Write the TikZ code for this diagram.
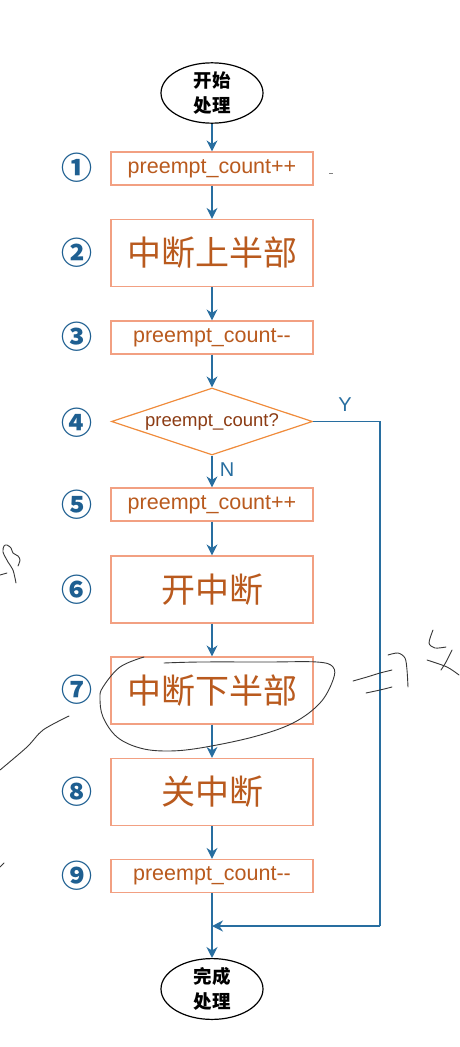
\documentclass[tikz,border=0pt]{standalone}
\usepackage{fontspec}
\setmainfont{Liberation Sans}
\newfontfamily\cjk{Noto Sans CJK SC}
\usetikzlibrary{shapes.geometric,arrows.meta}
\definecolor{flow}{RGB}{40,110,160}
\definecolor{boxline}{RGB}{242,160,130}
\definecolor{dialine}{RGB}{240,140,60}
\definecolor{boxtext}{RGB}{185,90,30}
\definecolor{diatext}{RGB}{140,60,20}
\definecolor{numcol}{RGB}{30,95,145}
\definecolor{pen}{RGB}{55,55,55}
\tikzset{
  stepbox/.style={draw=boxline, line width=1.2pt, minimum width=202pt, inner sep=0pt, text=boxtext},
  smallbox/.style={stepbox, minimum height=33pt, font=\fontsize{21.5}{24}\selectfont},
  bigbox/.style={stepbox, minimum height=67pt, font=\cjk\fontsize{34}{38}\selectfont},
  term/.style={ellipse, draw=black, line width=1.2pt, minimum width=102pt, inner sep=0pt, align=center, font=\cjk\bfseries\fontsize{18.5}{25}\selectfont},
  decision/.style={diamond, draw=dialine, line width=1.2pt, minimum width=201pt, minimum height=67pt, inner sep=0pt, shape aspect=3, text=diatext, font=\fontsize{18.5}{20}\selectfont},
  num/.style={text=numcol, font=\cjk\bfseries\fontsize{31}{33}\selectfont},
  flowarrow/.style={draw=flow, line width=1.6pt, -{Stealth[length=11pt,width=11pt]}},
  flowline/.style={draw=flow, line width=1.6pt},
  lab/.style={text=flow, font=\fontsize{20}{22}\selectfont},
  scribble/.style={draw=pen, line width=0.9pt, line cap=round, line join=round}
}
\begin{document}
\begin{tikzpicture}[x=1pt,y=-1pt]
\useasboundingbox[fill=white] (0,0) rectangle (459,1047);

\node[term, minimum height=50pt] (start) at (212,93) {开始\\处理};
\node[smallbox] (s1) at (212,168.5) {preempt\_count++};
\node[bigbox] (s2) at (212,253) {中断上半部};
\node[smallbox] (s3) at (212,337.5) {preempt\_count{-}{-}};
\node[decision] (s4) at (212,421.5) {preempt\_count?};
\node[smallbox] (s5) at (212,504.5) {preempt\_count++};
\node[bigbox] (s6) at (212,589.5) {开中断};
\node[bigbox] (s7) at (212,690.5) {中断下半部};
\node[bigbox] (s8) at (212,792) {关中断};
\node[smallbox] (s9) at (212,876) {preempt\_count{-}{-}};
\node[term, minimum height=56pt] (finish) at (212,989) {完成\\处理};

\node[num] (n1) at (77,168) {①};
\node[num] (n2) at (77,253) {②};
\node[num] (n3) at (77,337) {③};
\node[num] (n4) at (77,423) {④};
\node[num] (n5) at (77,505) {⑤};
\node[num] (n6) at (77,590) {⑥};
\node[num] (n7) at (77,690) {⑦};
\node[num] (n8) at (77,792) {⑧};
\node[num] (n9) at (77,876) {⑨};

\draw[flowarrow] (start) -- (s1);
\draw[flowarrow] (s1) -- (s2);
\draw[flowarrow] (s2) -- (s3);
\draw[flowarrow] (s3) -- (s4);
\draw[flowarrow] (s4) -- (s5);
\draw[flowarrow] (s5) -- (s6);
\draw[flowarrow] (s6) -- (s7);
\draw[flowarrow] (s7) -- (s8);
\draw[flowarrow] (s8) -- (s9);
\draw[flowarrow] (s9) -- (finish);

\coordinate (join) at (212,926);
\coordinate (rtop) at (380,421.5);
\coordinate (rbot) at (380,926);
\draw[flowline] (s4.east) -- (rtop) -- (rbot);
\draw[flowarrow] (rbot) -- (join);

\node[lab] (ylab) at (345,405) {Y};
\node[lab] (nlab) at (227,470) {N};

% tiny mark
\draw[draw=gray, line width=0.8pt] (329,173) -- (333,173);

% handwritten annotations
\draw[scribble] plot[smooth, tension=0.6] coordinates {(144,657) (120,667) (103,687) (100,698) (103,717) (117,737) (140,748) (167,751) (200,748) (253,737) (293,723) (320,703) (333,680) (333,667) (317,662) (267,662) (200,662) (164,663)};
\draw[scribble] plot[smooth] coordinates {(69,716) (43,730) (27,747) (0,770)};
\draw[scribble] (0,867) -- (4,863);
\draw[scribble] plot[smooth] coordinates {(16,583) (13,570) (8,562) (3,552) (4,546) (7,545) (11,548) (13,553) (18,556) (20,560) (18,566)};
\draw[scribble] (0,575) -- (7,573);
\draw[scribble] plot[smooth] coordinates {(353,681) (367,677) (380,673) (392,670)};
\draw[scribble] plot[smooth] coordinates {(366,693) (380,690) (392,687)};
\draw[scribble] plot[smooth] coordinates {(388,655) (398,653) (405,658) (407,670) (408,687)};
\draw[scribble] plot[smooth] coordinates {(433,630) (429,643) (435,648) (446,647)};
\draw[scribble] plot[smooth] coordinates {(452,650) (446,662) (441,670)};
\draw[scribble] plot[smooth] coordinates {(427,660) (447,667) (459,675)};
\end{tikzpicture}
\end{document}
